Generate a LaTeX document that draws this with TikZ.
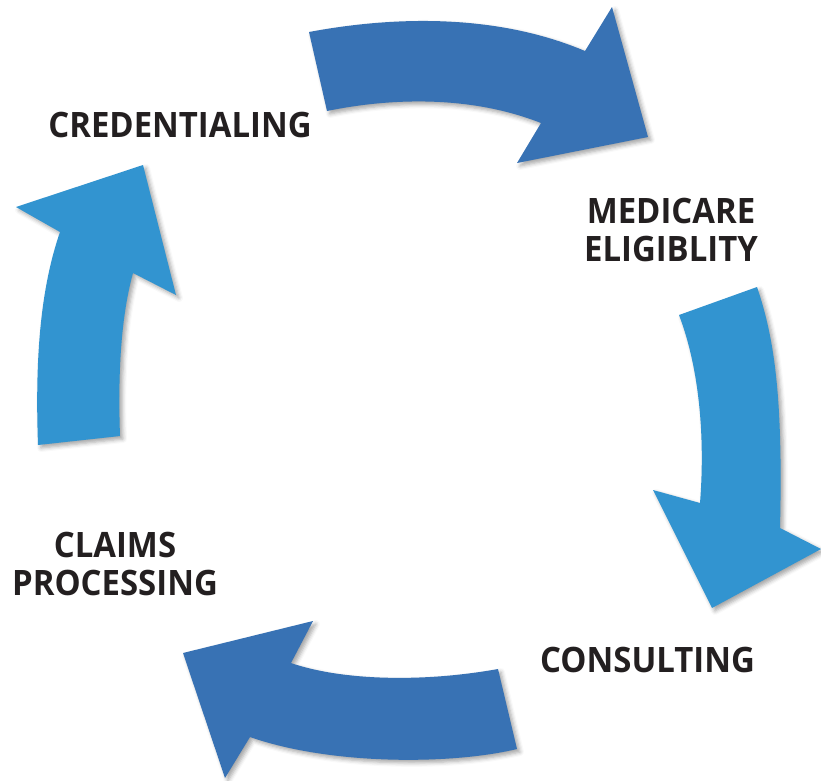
\documentclass[tikz,border=0pt]{standalone}
\usepackage{fontspec}
\setmainfont[FakeStretch=0.94]{Open Sans}
\usetikzlibrary{shadows.blur}
\definecolor{darkarrow}{HTML}{3872B4}
\definecolor{lightarrow}{HTML}{3294D0}
\definecolor{labeltext}{HTML}{231F20}
\begin{document}
\begin{tikzpicture}[x=1pt,y=-1pt,
	arrowshape/.style={draw=none,blur shadow={shadow xshift=3pt,shadow yshift=-3pt,shadow blur radius=4pt,shadow opacity=35}},
	steplabel/.style={inner sep=0pt,text=labeltext,align=center,font=\fontsize{35}{38}\selectfont\bfseries}]
	\useasboundingbox (0,0) rectangle (821,780);
	\fill[arrowshape,darkarrow] (309,32) .. controls (400,15) and (500,15) .. (585,51) -- (612,7) -- (648,137) -- (517,163) -- (541,123) .. controls (470,95) and (390,98) .. (327,111) -- cycle;
	\fill[arrowshape,lightarrow] (679,315) -- (757,287) .. controls (775,340) and (783,400) .. (780,528) -- (821,549) -- (712,608) -- (653,490) -- (700,503) .. controls (705,440) and (700,370) .. (679,315) -- cycle;
	\fill[arrowshape,darkarrow] (498,669) -- (517,749) .. controls (450,765) and (330,765) .. (250,737) -- (225,778) -- (183,653) -- (313,621) -- (291,663) .. controls (340,680) and (420,683) .. (498,669) -- cycle;
	\fill[arrowshape,lightarrow] (38,445) .. controls (35,360) and (40,290) .. (60,232) -- (16,207) -- (143,165) -- (176,295) -- (133,273) .. controls (120,320) and (118,380) .. (120,436) -- cycle;
	\node[steplabel] (cred) at (180,124.5) {CREDENTIALING};
	\node[steplabel] (medi) at (671,229.5) {MEDICARE\\ELIGIBLITY};
	\node[steplabel] (cons) at (647.5,660) {CONSULTING};
	\node[steplabel] (claim) at (115,564) {CLAIMS\\PROCESSING};
\end{tikzpicture}
\end{document}
